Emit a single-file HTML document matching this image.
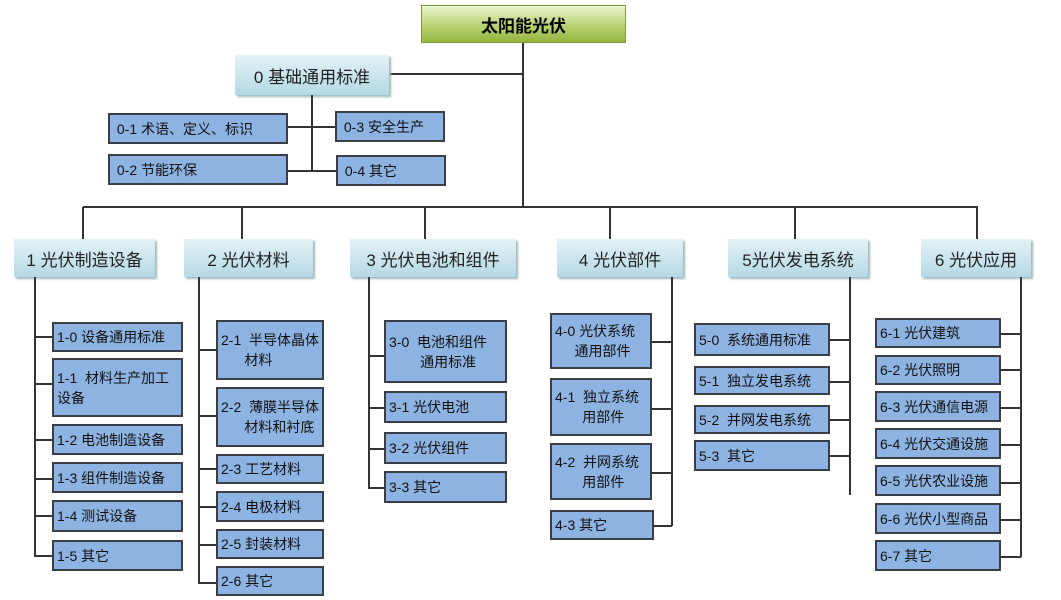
<!DOCTYPE html>
<html><head><meta charset="utf-8"><style>
body{margin:0;width:1061px;height:600px;background:#fff;position:relative;overflow:hidden;font-family:"Liberation Sans","Noto Sans CJK SC",sans-serif;}
.b{position:absolute;box-sizing:border-box;background:#8db3e2;border:2px solid #3a3f47;font-size:14px;color:#111;padding-left:3px;display:flex;flex-direction:column;justify-content:center;line-height:20px;}
.h{position:absolute;box-sizing:border-box;background:linear-gradient(#e4f2f6,#b4d9e4);box-shadow:2px 2px 2px #9fb6bd;font-size:17px;color:#222;display:flex;align-items:center;justify-content:center;}
.l{position:absolute;background:#333;}
.t{position:absolute;left:421px;top:5px;width:205px;height:38px;background:linear-gradient(#eaf3cf,#b4cf6a 60%,#93b440);border:1px solid #7f9a45;font-size:17px;font-weight:bold;display:flex;align-items:center;justify-content:center;box-sizing:border-box;}
.c{padding-left:0;align-items:center;text-align:center}
</style></head><body>
<div class="t">太阳能光伏</div>
<!-- trunk -->
<div class="l" style="left:522px;top:43px;width:2px;height:165px"></div>
<div class="l" style="left:389px;top:73px;width:134px;height:2px"></div>
<div class="l" style="left:83px;top:206px;width:895px;height:2px"></div>
<div class="h" style="left:235px;top:55px;width:154px;height:40px">0 基础通用标准</div>
<div class="l" style="left:311px;top:95px;width:2px;height:76px"></div>
<div class="l" style="left:288px;top:126px;width:48px;height:2px"></div>
<div class="l" style="left:288px;top:170px;width:48px;height:2px"></div>
<div class="b" style="left:108px;top:113px;width:180px;height:31px">&nbsp;0-1 术语、定义、标识</div>
<div class="b" style="left:108px;top:154px;width:180px;height:31px">&nbsp;0-2 节能环保</div>
<div class="b" style="left:335px;top:111px;width:110px;height:31px">&nbsp;0-3 安全生产</div>
<div class="b" style="left:336px;top:155px;width:110px;height:31px">&nbsp;0-4 其它</div>
<!-- drops -->
<div class="l" style="left:82px;top:207px;width:2px;height:32px"></div>
<div class="l" style="left:241px;top:207px;width:2px;height:32px"></div>
<div class="l" style="left:424px;top:207px;width:2px;height:32px"></div>
<div class="l" style="left:609px;top:207px;width:2px;height:32px"></div>
<div class="l" style="left:794px;top:207px;width:2px;height:32px"></div>
<div class="l" style="left:976px;top:207px;width:2px;height:32px"></div>
<div class="h" style="left:14px;top:239px;width:141px;height:38px">1 光伏制造设备</div>
<div class="h" style="left:184px;top:239px;width:129px;height:38px">2 光伏材料</div>
<div class="h" style="left:350px;top:239px;width:166px;height:38px">3 光伏电池和组件</div>
<div class="h" style="left:557px;top:239px;width:126px;height:38px">4 光伏部件</div>
<div class="h" style="left:728px;top:239px;width:140px;height:38px">5光伏发电系统</div>
<div class="h" style="left:921px;top:239px;width:110px;height:38px">6 光伏应用</div>
<!-- col1 -->
<div class="l" style="left:34px;top:277px;width:2px;height:280px"></div>
<div class="l" style="left:34px;top:336px;width:18px;height:2px"></div>
<div class="l" style="left:34px;top:383px;width:18px;height:2px"></div>
<div class="l" style="left:34px;top:439px;width:18px;height:2px"></div>
<div class="l" style="left:34px;top:478px;width:18px;height:2px"></div>
<div class="l" style="left:34px;top:515px;width:18px;height:2px"></div>
<div class="l" style="left:34px;top:555px;width:18px;height:2px"></div>
<div class="b" style="left:52px;top:322px;width:131px;height:30px">1-0 设备通用标准</div>
<div class="b" style="left:52px;top:358px;width:131px;height:59px">1-1&nbsp; 材料生产加工<br>设备</div>
<div class="b" style="left:52px;top:424px;width:131px;height:31px">1-2 电池制造设备</div>
<div class="b" style="left:52px;top:462px;width:131px;height:31px">1-3 组件制造设备</div>
<div class="b" style="left:52px;top:500px;width:131px;height:32px">1-4 测试设备</div>
<div class="b" style="left:52px;top:540px;width:131px;height:31px">1-5 其它</div>
<!-- col2 -->
<div class="l" style="left:198px;top:277px;width:2px;height:306px"></div>
<div class="l" style="left:198px;top:349px;width:18px;height:2px"></div>
<div class="l" style="left:198px;top:415px;width:18px;height:2px"></div>
<div class="l" style="left:198px;top:468px;width:18px;height:2px"></div>
<div class="l" style="left:198px;top:506px;width:18px;height:2px"></div>
<div class="l" style="left:198px;top:544px;width:18px;height:2px"></div>
<div class="l" style="left:198px;top:582px;width:18px;height:2px"></div>
<div class="b" style="left:216px;top:320px;width:108px;height:60px">2-1&nbsp; 半导体晶体<br>&nbsp; &nbsp; &nbsp; 材料</div>
<div class="b" style="left:216px;top:387px;width:108px;height:60px">2-2&nbsp; 薄膜半导体<br>&nbsp; &nbsp; &nbsp; 材料和衬底</div>
<div class="b" style="left:216px;top:454px;width:108px;height:30px">2-3 工艺材料</div>
<div class="b" style="left:216px;top:491px;width:108px;height:31px">2-4 电极材料</div>
<div class="b" style="left:216px;top:529px;width:108px;height:30px">2-5 封装材料</div>
<div class="b" style="left:216px;top:566px;width:108px;height:30px">2-6 其它</div>
<!-- col3 -->
<div class="l" style="left:368px;top:277px;width:2px;height:211px"></div>
<div class="l" style="left:368px;top:355px;width:16px;height:2px"></div>
<div class="l" style="left:368px;top:407px;width:16px;height:2px"></div>
<div class="l" style="left:368px;top:448px;width:16px;height:2px"></div>
<div class="l" style="left:368px;top:487px;width:16px;height:2px"></div>
<div class="b" style="left:384px;top:320px;width:123px;height:63px">3-0&nbsp; 电池和组件<br>&nbsp; &nbsp; &nbsp; &nbsp; 通用标准</div>
<div class="b" style="left:384px;top:391px;width:123px;height:32px">3-1 光伏电池</div>
<div class="b" style="left:384px;top:432px;width:123px;height:32px">3-2 光伏组件</div>
<div class="b" style="left:384px;top:471px;width:123px;height:32px">3-3 其它</div>
<!-- col4 -->
<div class="l" style="left:671px;top:277px;width:2px;height:249px"></div>
<div class="l" style="left:652px;top:341px;width:20px;height:2px"></div>
<div class="l" style="left:652px;top:408px;width:20px;height:2px"></div>
<div class="l" style="left:652px;top:472px;width:20px;height:2px"></div>
<div class="l" style="left:652px;top:525px;width:20px;height:2px"></div>
<div class="b" style="left:550px;top:313px;width:102px;height:56px">4-0 光伏系统<br>&nbsp; &nbsp; &nbsp;通用部件</div>
<div class="b" style="left:550px;top:378px;width:102px;height:58px">4-1&nbsp; 独立系统<br>&nbsp; &nbsp; &nbsp; &nbsp;用部件</div>
<div class="b" style="left:550px;top:443px;width:102px;height:57px">4-2&nbsp; 并网系统<br>&nbsp; &nbsp; &nbsp; &nbsp;用部件</div>
<div class="b" style="left:550px;top:510px;width:104px;height:30px">4-3 其它</div>
<!-- col5 -->
<div class="l" style="left:849px;top:277px;width:2px;height:218px"></div>
<div class="l" style="left:830px;top:339px;width:20px;height:2px"></div>
<div class="l" style="left:830px;top:381px;width:20px;height:2px"></div>
<div class="l" style="left:830px;top:419px;width:20px;height:2px"></div>
<div class="l" style="left:830px;top:455px;width:20px;height:2px"></div>
<div class="b" style="left:694px;top:323px;width:136px;height:33px">5-0&nbsp; 系统通用标准</div>
<div class="b" style="left:694px;top:366px;width:136px;height:29px">5-1&nbsp; 独立发电系统</div>
<div class="b" style="left:694px;top:405px;width:136px;height:29px">5-2&nbsp; 并网发电系统</div>
<div class="b" style="left:694px;top:440px;width:136px;height:31px">5-3&nbsp; 其它</div>
<!-- col6 -->
<div class="l" style="left:1020px;top:277px;width:2px;height:280px"></div>
<div class="l" style="left:1001px;top:333px;width:20px;height:2px"></div>
<div class="l" style="left:1001px;top:369px;width:20px;height:2px"></div>
<div class="l" style="left:1001px;top:407px;width:20px;height:2px"></div>
<div class="l" style="left:1001px;top:444px;width:20px;height:2px"></div>
<div class="l" style="left:1001px;top:482px;width:20px;height:2px"></div>
<div class="l" style="left:1001px;top:519px;width:20px;height:2px"></div>
<div class="l" style="left:1001px;top:556px;width:20px;height:2px"></div>
<div class="b" style="left:875px;top:318px;width:126px;height:30px">6-1 光伏建筑</div>
<div class="b" style="left:875px;top:355px;width:126px;height:30px">6-2 光伏照明</div>
<div class="b" style="left:875px;top:391px;width:126px;height:31px">6-3 光伏通信电源</div>
<div class="b" style="left:875px;top:428px;width:126px;height:31px">6-4 光伏交通设施</div>
<div class="b" style="left:875px;top:465px;width:126px;height:31px">6-5 光伏农业设施</div>
<div class="b" style="left:875px;top:503px;width:126px;height:31px">6-6 光伏小型商品</div>
<div class="b" style="left:875px;top:540px;width:126px;height:31px">6-7 其它</div>
</body></html>
